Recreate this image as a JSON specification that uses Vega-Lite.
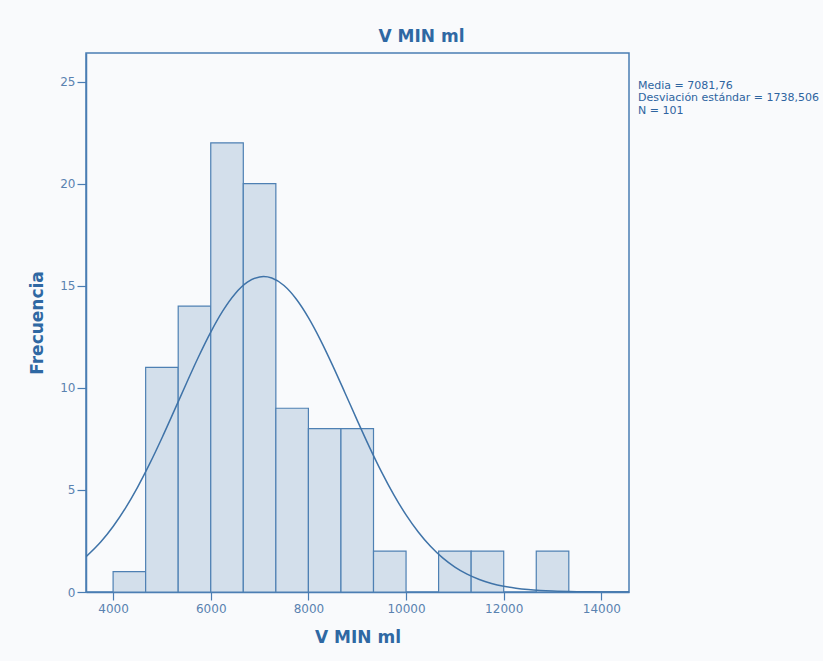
{
  "$schema": "https://vega.github.io/schema/vega-lite/v6.json",
  "width": 543,
  "height": 539,
  "autosize": {"type": "none"},
  "padding": {"left": 86, "top": 53, "right": 194, "bottom": 69},
  "background": "#f9fafc",
  "config": {
    "view": {"fill": "#f1f5fa", "stroke": "#4a7db3", "strokeWidth": 1.5},
    "font": "DejaVu Sans"
  },
  "title": {
    "text": "V MIN ml",
    "fontSize": 17,
    "fontWeight": "bold",
    "color": "#2f68a3",
    "font": "DejaVu Sans",
    "anchor": "middle",
    "dx": 64,
    "offset": 7
  },
  "datasets": {
    "bins": [
      {"start": 4000, "end": 4666.67, "count": 1},
      {"start": 4666.67, "end": 5333.33, "count": 11},
      {"start": 5333.33, "end": 6000, "count": 14},
      {"start": 6000, "end": 6666.67, "count": 22},
      {"start": 6666.67, "end": 7333.33, "count": 20},
      {"start": 7333.33, "end": 8000, "count": 9},
      {"start": 8000, "end": 8666.67, "count": 8},
      {"start": 8666.67, "end": 9333.33, "count": 8},
      {"start": 9333.33, "end": 10000, "count": 2},
      {"start": 10666.67, "end": 11333.33, "count": 2},
      {"start": 11333.33, "end": 12000, "count": 2},
      {"start": 12666.67, "end": 13333.33, "count": 2}
    ],
    "curve": [
      {"x": 3445, "y": 1.73},
      {"x": 3750, "y": 2.462},
      {"x": 4000, "y": 3.211},
      {"x": 4250, "y": 4.1},
      {"x": 4500, "y": 5.129},
      {"x": 4750, "y": 6.285},
      {"x": 5000, "y": 7.544},
      {"x": 5250, "y": 8.87},
      {"x": 5500, "y": 10.214},
      {"x": 5750, "y": 11.523},
      {"x": 6000, "y": 12.731},
      {"x": 6250, "y": 13.78},
      {"x": 6500, "y": 14.61},
      {"x": 6750, "y": 15.172},
      {"x": 7000, "y": 15.434},
      {"x": 7082, "y": 15.451},
      {"x": 7250, "y": 15.379},
      {"x": 7500, "y": 15.01},
      {"x": 7750, "y": 14.351},
      {"x": 8000, "y": 13.439},
      {"x": 8250, "y": 12.328},
      {"x": 8500, "y": 11.078},
      {"x": 8750, "y": 9.75},
      {"x": 9000, "y": 8.406},
      {"x": 9250, "y": 7.099},
      {"x": 9500, "y": 5.872},
      {"x": 9750, "y": 4.758},
      {"x": 10000, "y": 3.777},
      {"x": 10250, "y": 2.936},
      {"x": 10500, "y": 2.236},
      {"x": 10750, "y": 1.668},
      {"x": 11000, "y": 1.219},
      {"x": 11250, "y": 0.872},
      {"x": 11500, "y": 0.611},
      {"x": 11750, "y": 0.42},
      {"x": 12000, "y": 0.282},
      {"x": 12250, "y": 0.186},
      {"x": 12500, "y": 0.12},
      {"x": 12750, "y": 0.076},
      {"x": 13000, "y": 0.047},
      {"x": 13500, "y": 0.017},
      {"x": 14000, "y": 0.0056},
      {"x": 14566, "y": 0.0015}
    ],
    "stats": [
      {"stat": "Media = 7081,76"},
      {"stat": "Desviación estándar = 1738,506"},
      {"stat": "N = 101"}
    ]
  },
  "layer": [
    {
      "data": {"name": "bins"},
      "mark": {"type": "rect", "fill": "#d3dfeb", "stroke": "#4e80b3", "strokeWidth": 1.2},
      "encoding": {
        "x": {
          "field": "start",
          "type": "quantitative",
          "scale": {"domain": [3445, 14566], "nice": false, "zero": false},
          "axis": {
            "values": [4000, 6000, 8000, 10000, 12000, 14000],
            "format": "d",
            "grid": false,
            "domainColor": "#4a7db3",
            "domainWidth": 1.5,
            "tickColor": "#4a7db3",
            "tickWidth": 1.2,
            "tickSize": 8,
            "labelPadding": 3,
            "labelFontSize": 12,
            "labelColor": "#5a82b0",
            "labelFont": "DejaVu Sans",
            "title": "V MIN ml",
            "titleFontSize": 17,
            "titleFontWeight": "bold",
            "titleColor": "#2f68a3",
            "titleFont": "DejaVu Sans",
            "titlePadding": 15
          }
        },
        "x2": {"field": "end"},
        "y": {
          "field": "count",
          "type": "quantitative",
          "scale": {"domain": [0, 26.4], "nice": false},
          "axis": {
            "values": [0, 5, 10, 15, 20, 25],
            "grid": false,
            "domainColor": "#4a7db3",
            "domainWidth": 1.5,
            "tickColor": "#4a7db3",
            "tickWidth": 1.2,
            "tickSize": 9,
            "labelPadding": 2,
            "labelFontSize": 12,
            "labelColor": "#5a82b0",
            "labelFont": "DejaVu Sans",
            "title": "Frecuencia",
            "titleFontSize": 17,
            "titleFontWeight": "bold",
            "titleColor": "#2f68a3",
            "titleFont": "DejaVu Sans",
            "titlePadding": 13
          }
        }
      }
    },
    {
      "data": {"name": "curve"},
      "mark": {"type": "line", "color": "#3f73a8", "strokeWidth": 1.5, "interpolate": "monotone", "clip": true},
      "encoding": {
        "x": {"field": "x", "type": "quantitative"},
        "y": {"field": "y", "type": "quantitative"}
      }
    },
    {
      "data": {"name": "stats"},
      "mark": {"type": "point", "opacity": 0},
      "encoding": {
        "color": {
          "field": "stat",
          "type": "nominal",
          "scale": {
            "domain": ["Media = 7081,76", "Desviación estándar = 1738,506", "N = 101"],
            "range": ["#2e64a0", "#2e64a0", "#2e64a0"]
          },
          "legend": {
            "orient": "none",
            "legendX": 541,
            "legendY": 27,
            "title": null,
            "padding": 0,
            "symbolSize": 0,
            "symbolStrokeWidth": 0,
            "symbolOpacity": 0,
            "labelOffset": 0,
            "labelLimit": 400,
            "labelFontSize": 11,
            "labelFont": "DejaVu Sans",
            "labelColor": "#2e64a0",
            "rowPadding": 0.5
          }
        }
      }
    }
  ]
}
